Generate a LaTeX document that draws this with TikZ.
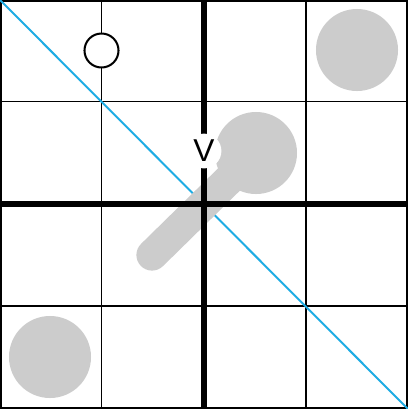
\documentclass[tikz,border=0pt]{standalone}
\usepackage{fontspec}
\setsansfont{Liberation Sans}
\usetikzlibrary{positioning}
\definecolor{diagblue}{RGB}{30,172,228}
\definecolor{stonegray}{RGB}{204,204,204}

\begin{document}
\begin{tikzpicture}[
    x=0.025cm, y=-0.025cm,
    thinline/.style={line width=1.4pt, draw=black},
    thickline/.style={line width=3.6pt, draw=black},
    diag/.style={line width=1.4pt, draw=diagblue},
    bigdot/.style={circle, fill=stonegray, minimum size=2.05cm, inner sep=0pt},
    smalldot/.style={circle, draw=black, line width=1.45pt, fill=white, minimum size=0.85cm, inner sep=0pt},
    stick/.style={line width=0.78cm, draw=stonegray, line cap=round},
    vlabel/.style={circle, fill=white, minimum size=0.87cm, inner sep=0pt, font=\sffamily\fontsize{22.5}{22.5}\selectfont}
  ]
    \useasboundingbox (0,0) rectangle (408,409);
    \fill[white] (0,0) rectangle (408,409);
    % thin grid
    \foreach \p in {101.5,306} {
      \draw[thinline] (\p,0) -- (\p,409);
      \draw[thinline] (0,\p) -- (408,\p);
    }
    \draw[thinline] (1,1) rectangle (407,408);
    % diagonal
    \coordinate (nw) at (0,0);
    \coordinate (se) at (408,409);
    \draw[diag] (nw) -- (se);
    % gray pieces
    \node[bigdot] (ne) at (357,50) {};
    \node[bigdot] (sw) at (50,357) {};
    \node[bigdot] (head) at (256,153) {};
    \coordinate (tail) at (152,255);
    \draw[stick] (tail) -- (head.center);
    % thick middle lines
    \draw[thickline] (204,0) -- (204,409);
    \draw[thickline] (0,204) -- (408,204);
    % markers
    \node[smalldot] (ring) at (101.5,50.5) {};
    \node[vlabel] (v) at (204,151) {V};
  \end{tikzpicture}
\end{document}
